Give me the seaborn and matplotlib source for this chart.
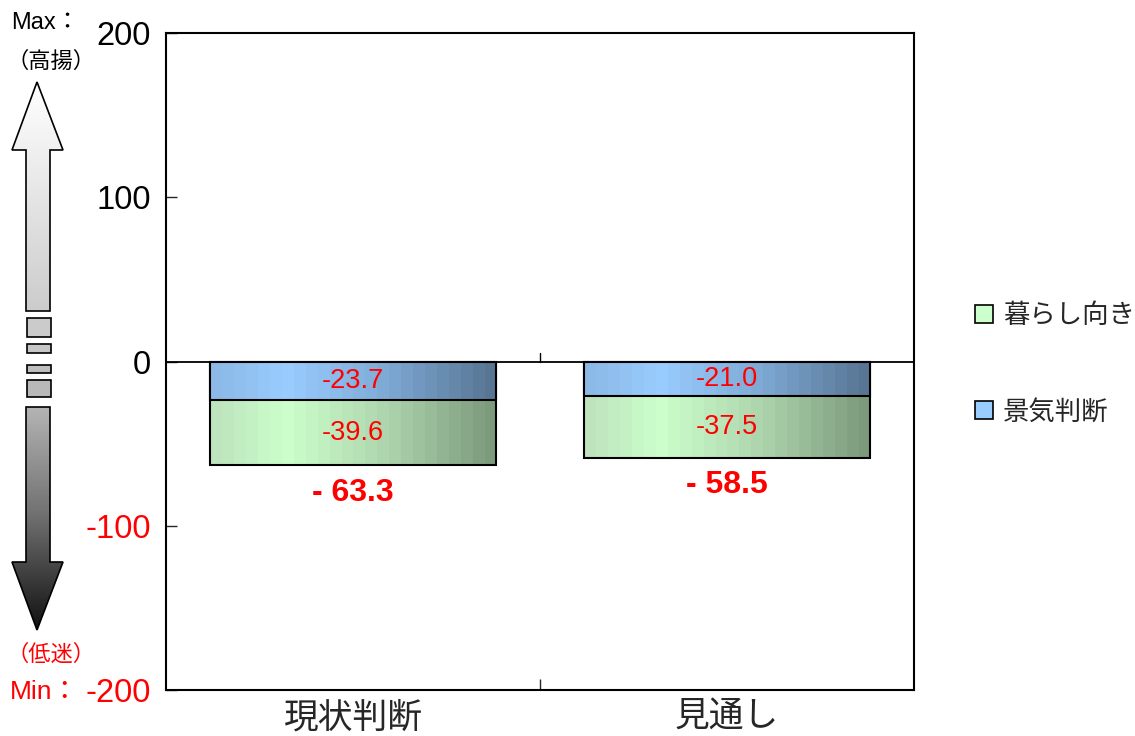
import numpy as np
import pandas as pd
import matplotlib
matplotlib.use("Agg")
import matplotlib.pyplot as plt
from matplotlib.patches import Patch, Polygon, Rectangle
from matplotlib.colors import LinearSegmentedColormap
import seaborn as sns

# ---- data ----
categories = ["現状判断", "見通し"]
keiki = [-23.7, -21.0]        # 景気判断
kurashi = [-39.6, -37.5]      # 暮らし向き
series_names = ["暮らし向き", "景気判断"]
y_ticks = [-200, -100, 0, 100, 200]
y_tick_labels = ["-200", "-100", "0", "100", "200"]

totals = [a + b for a, b in zip(keiki, kurashi)]

sns.set_style("ticks")
plt.rcParams["font.family"] = ["Liberation Sans", "Noto Sans CJK JP", "DejaVu Sans"]

W, H = 1135, 736
fig = plt.figure(figsize=(W / 100, H / 100), dpi=100)
ax = fig.add_axes([166 / W, 1 - 690 / H, (914 - 166) / W, (690 - 33) / H])

df = pd.DataFrame({"cat": categories, "total": totals, "keiki": keiki})

bar_w = 0.767
n0 = len(ax.patches)
sns.barplot(data=df, x="cat", y="total", color="#ccffcc", width=bar_w,
            saturation=1, ax=ax)
green_bars = ax.patches[n0:]
n1 = len(ax.patches)
sns.barplot(data=df, x="cat", y="keiki", color="#99ccff", width=bar_w,
            saturation=1, ax=ax)
blue_bars = ax.patches[n1:]

green_cmap = LinearSegmentedColormap.from_list(
    "g", [(0, "#bde4bd"), (0.25, "#ccffcc"), (0.6, "#b0d8b0"), (1, "#7c9a7c")])
blue_cmap = LinearSegmentedColormap.from_list(
    "b", [(0, "#8cb9e6"), (0.25, "#99ccff"), (0.6, "#80acd8"), (1, "#587694")])
grad = np.linspace(0, 1, 24).reshape(1, -1)


def fill_gradient(patches, cmap, z):
    for p in patches:
        x0 = p.get_x()
        x1 = x0 + p.get_width()
        y0 = p.get_y()
        y1 = y0 + p.get_height()
        im = ax.imshow(grad, cmap=cmap, aspect="auto", interpolation="nearest",
                       extent=(x0, x1, min(y0, y1), max(y0, y1)), zorder=z)
        im.set_clip_path(p)
        p.set_facecolor("none")
        p.set_edgecolor("black")
        p.set_linewidth(1.5)
        p.set_zorder(z + 0.05)


fill_gradient(green_bars, green_cmap, 1.5)
fill_gradient(blue_bars, blue_cmap, 1.7)

# segment labels and totals
for i in range(len(categories)):
    ax.text(i, keiki[i] / 2, f"-{abs(keiki[i]):.1f}", color="red", fontsize=19.5,
            ha="center", va="center", zorder=5)
    ax.text(i, keiki[i] + kurashi[i] / 2, f"-{abs(kurashi[i]):.1f}", color="red",
            fontsize=19.5, ha="center", va="center", zorder=5)
    ax.annotate(f"- {abs(totals[i]):.1f}", xy=(i, totals[i]), xytext=(0, -20),
                textcoords="offset points", ha="center", va="center",
                color="red", fontsize=23, fontweight="bold", zorder=5)

ax.axhline(0, color="black", lw=1.3, zorder=4)
ax.plot([0.5, 0.5], [0, 5], color="black", lw=1, zorder=4)

ax.set_xlim(-0.5, len(categories) - 0.5)
ax.set_ylim(-200, 200)
ax.set_yticks(y_ticks)
ax.set_yticklabels(y_tick_labels)
ax.set_xticks([0.5], minor=True)
ax.tick_params(axis="x", which="major", length=0, labelsize=25, pad=8)
ax.tick_params(axis="x", which="minor", direction="in", length=8, width=1)
ax.tick_params(axis="y", direction="in", length=8, width=1, labelsize=23.5, pad=11)
for lbl, v in zip(ax.get_yticklabels(), y_ticks):
    lbl.set_color("red" if v < 0 else "black")
ax.set_xlabel("")
ax.set_ylabel("")
for s in ax.spines.values():
    s.set_visible(True)
    s.set_color("black")
    s.set_linewidth(1.5)

# legend
handles = [Patch(facecolor="#ccffcc", edgecolor="black", lw=1.2),
           Patch(facecolor="#99ccff", edgecolor="black", lw=1.2)]
fig.legend(handles, series_names, loc="center left",
           bbox_to_anchor=(975 / W, 1 - 364 / H), frameon=False, fontsize=19,
           handlelength=0.7, handleheight=0.7, handletextpad=0.35,
           labelspacing=2.7, borderpad=0, borderaxespad=0)

# scale indicator on the left
deco = fig.add_axes([0, 0, 1, 1], facecolor="none")
deco.set_xlim(0, W)
deco.set_ylim(H, 0)
deco.axis("off")

up = Polygon([(37, 82), (63, 150), (50, 150), (50, 311), (26, 311), (26, 150),
              (12, 150)], closed=True, facecolor="none", edgecolor="black", lw=1.2,
             zorder=3)
down = Polygon([(26, 407), (50, 407), (50, 562), (63, 562), (37, 630), (12, 562),
                (26, 562)], closed=True, facecolor="none", edgecolor="black", lw=1.2,
               zorder=3)
deco.add_patch(up)
deco.add_patch(down)
vgrad = np.linspace(0, 1, 128).reshape(-1, 1)
up_cmap = LinearSegmentedColormap.from_list("u", ["#ffffff", "#cccccc"])
down_cmap = LinearSegmentedColormap.from_list("d", ["#b4b4b4", "#6e6e6e", "#111111"])
im = deco.imshow(vgrad, cmap=up_cmap, aspect="auto", extent=(12, 63, 311, 82),
                 origin="upper", zorder=2)
im.set_clip_path(up)
im = deco.imshow(vgrad, cmap=down_cmap, aspect="auto", extent=(12, 63, 630, 407),
                 origin="upper", zorder=2)
im.set_clip_path(down)
for (y0, y1, c) in [(318, 337, "#cbcbcb"), (344, 353, "#c6c6c6"),
                    (365, 373, "#bebebe"), (380, 397, "#b9b9b9")]:
    deco.add_patch(Rectangle((27, y0), 24, y1 - y0, facecolor=c,
                             edgecolor="black", lw=1.2, zorder=3))

deco.text(11, 23, "Max：", fontsize=17, ha="left", va="center", color="black")
deco.text(6, 62, "（高揚）", fontsize=16, ha="left", va="center", color="black")
deco.text(6, 655, "（低迷）", fontsize=16, ha="left", va="center", color="red")
deco.text(10, 692, "Min：", fontsize=19, ha="left", va="center", color="red")

fig.savefig("out.png", dpi=100)
